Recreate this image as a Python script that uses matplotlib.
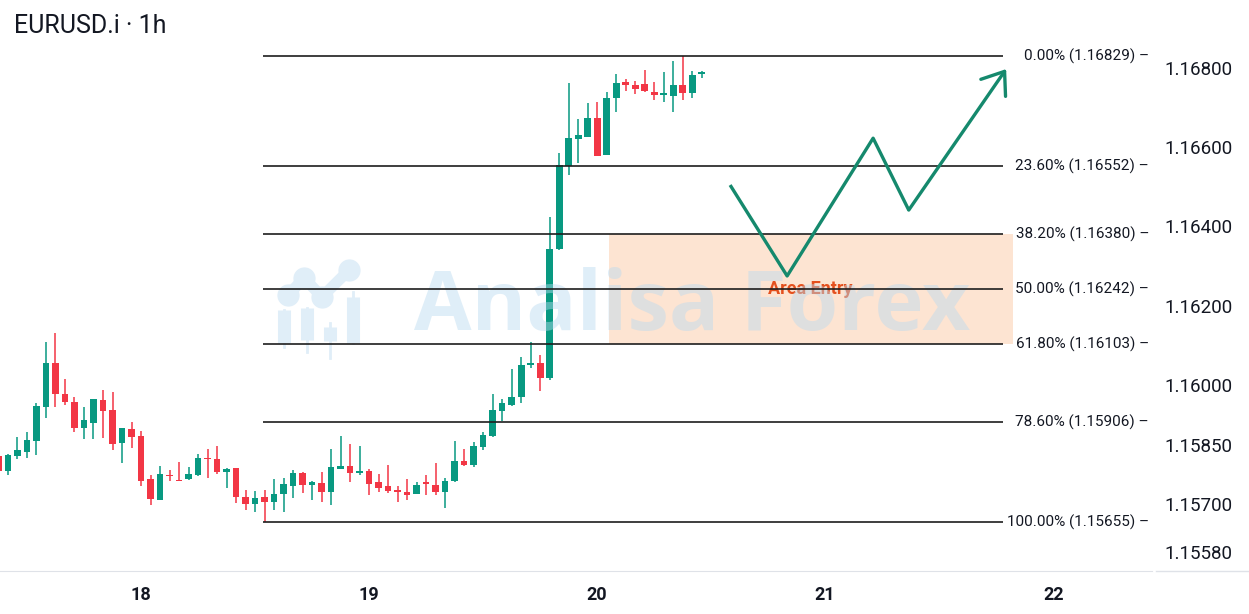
import matplotlib
matplotlib.use("Agg")
import matplotlib.pyplot as plt
import matplotlib.transforms as mtransforms
from matplotlib.lines import Line2D
from matplotlib.patches import Rectangle

plt.rcParams['font.family'] = ['Roboto', 'DejaVu Sans']

# hourly candles, hour 0 = day 18 00:00
hours = list(range(-15, 60))
opens = [1.15821, 1.15784, 1.15822, 1.15832, 1.15860, 1.15946, 1.16055, 1.15977, 1.15958, 1.15891,
         1.15905, 1.15962, 1.15937, 1.15855, 1.15889, 1.15872, 1.15763, 1.15712, 1.15774, 1.15761,
         1.15763, 1.15774, 1.15817, 1.15813, 1.15782, 1.15792, 1.15719, 1.15701, 1.15719, 1.15707,
         1.15727, 1.15747, 1.15778, 1.15748, 1.15754, 1.15732, 1.15789, 1.15797, 1.15779, 1.15783,
         1.15755, 1.15745, 1.15733, 1.15732, 1.15726, 1.15752, 1.15748, 1.15730, 1.15758, 1.15810,
         1.15798, 1.15845, 1.15873, 1.15935, 1.15951, 1.15969, 1.16052, 1.16055, 1.16017, 1.16344,
         1.16551, 1.16621, 1.16626, 1.16674, 1.16580, 1.16722, 1.16764, 1.16755, 1.16758, 1.16739,
         1.16732, 1.16729, 1.16756, 1.16737, 1.16784]
highs = [1.15825, 1.15826, 1.15870, 1.15883, 1.15956, 1.16109, 1.16132, 1.16015, 1.15971, 1.15944,
         1.15966, 1.15988, 1.15983, 1.15891, 1.15907, 1.15885, 1.15774, 1.15796, 1.15786, 1.15806,
         1.15793, 1.15826, 1.15838, 1.15848, 1.15792, 1.15792, 1.15736, 1.15733, 1.15736, 1.15763,
         1.15765, 1.15786, 1.15781, 1.15758, 1.15781, 1.15838, 1.15873, 1.15852, 1.15847, 1.15790,
         1.15776, 1.15798, 1.15746, 1.15763, 1.15757, 1.15773, 1.15805, 1.15765, 1.15859, 1.15838,
         1.15857, 1.15883, 1.15978, 1.15965, 1.16040, 1.16072, 1.16109, 1.16077, 1.16424, 1.16584,
         1.16762, 1.16670, 1.16711, 1.16713, 1.16739, 1.16784, 1.16771, 1.16766, 1.16794, 1.16764,
         1.16789, 1.16816, 1.16829, 1.16792, 1.16790]
lows = [1.15780, 1.15774, 1.15815, 1.15817, 1.15824, 1.15918, 1.15946, 1.15950, 1.15883, 1.15864,
        1.15864, 1.15868, 1.15836, 1.15805, 1.15841, 1.15747, 1.15698, 1.15712, 1.15759, 1.15758,
        1.15761, 1.15772, 1.15766, 1.15776, 1.15742, 1.15704, 1.15685, 1.15681, 1.15655, 1.15685,
        1.15681, 1.15715, 1.15729, 1.15712, 1.15706, 1.15699, 1.15789, 1.15755, 1.15775, 1.15723,
        1.15731, 1.15729, 1.15706, 1.15712, 1.15726, 1.15723, 1.15723, 1.15691, 1.15757, 1.15797,
        1.15794, 1.15837, 1.15870, 1.15909, 1.15947, 1.15956, 1.16042, 1.15986, 1.16014, 1.16340,
        1.16529, 1.16560, 1.16626, 1.16578, 1.16580, 1.16689, 1.16740, 1.16734, 1.16739, 1.16717,
        1.16713, 1.16689, 1.16718, 1.16724, 1.16773]
closes = [1.15784, 1.15824, 1.15837, 1.15862, 1.15947, 1.16055, 1.15978, 1.15958, 1.15891, 1.15912,
          1.15966, 1.15936, 1.15853, 1.15891, 1.15870, 1.15758, 1.15713, 1.15776, 1.15771, 1.15758,
          1.15776, 1.15817, 1.15813, 1.15782, 1.15789, 1.15719, 1.15700, 1.15716, 1.15707, 1.15727,
          1.15751, 1.15780, 1.15748, 1.15755, 1.15732, 1.15793, 1.15796, 1.15780, 1.15784, 1.15752,
          1.15742, 1.15734, 1.15731, 1.15724, 1.15748, 1.15751, 1.15730, 1.15759, 1.15810, 1.15800,
          1.15848, 1.15874, 1.15937, 1.15956, 1.15971, 1.16051, 1.16055, 1.16017, 1.16344, 1.16554,
          1.16622, 1.16630, 1.16674, 1.16578, 1.16722, 1.16760, 1.16757, 1.16746, 1.16742, 1.16730,
          1.16735, 1.16756, 1.16737, 1.16782, 1.16787]

# fibonacci retracement
fib_ratios = [0.0, 23.6, 38.2, 50.0, 61.8, 78.6, 100.0]
fib_prices = [1.16829, 1.16552, 1.16380, 1.16242, 1.16103, 1.15906, 1.15655]
fib_start, fib_end = 12.8, 90.7

# entry zone and projected path
zone_x = (49.3, 91.8)
zone_y = (1.16103, 1.16380)
path_x = [62.0, 68.0, 77.05, 80.8, 91.05]
path_y = [1.16504, 1.16275, 1.16622, 1.16441, 1.16796]

price_ticks = [1.168, 1.166, 1.164, 1.162, 1.160, 1.1585, 1.157, 1.1558]
day_ticks = [0, 24, 48, 72, 96]
day_labels = ['18', '19', '20', '21', '22']

UP = '#089981'
DOWN = '#f23645'
TXT = '#131722'
WM = '#e0eef8'

fig = plt.figure(figsize=(12.49, 6.14), dpi=100)
ax = fig.add_axes([0, 43 / 614, 1152 / 1249, 571 / 614])
ax.set_xlim(-14.84, 106.4)
ax.set_ylim(1.15532, 1.16970)

# candles
for h, o, hi, lo, c in zip(hours, opens, highs, lows, closes):
    col = UP if c >= o else DOWN
    ax.vlines(h, lo, hi, color=col, lw=1.1, zorder=3)
    body = max(abs(c - o), 0.00004)
    ax.bar(h, body, bottom=min(o, c), width=0.72, color=col, lw=0, zorder=3)

# fib levels
ax.hlines(fib_prices, fib_start, fib_end, color='#1e1e1e', lw=1.2, zorder=4)
trans = mtransforms.blended_transform_factory(ax.transAxes, ax.transData)
for r, p in zip(fib_ratios, fib_prices):
    ax.text(0.9975, p, f'{r:.2f}% ({p:.5f}) \u2013', transform=trans, ha='right', va='center',
            fontsize=11, color=TXT, zorder=5)

ax.add_patch(Rectangle((zone_x[0], zone_y[0]), zone_x[1] - zone_x[0], zone_y[1] - zone_y[0],
                       facecolor='#fde4d2', edgecolor='none', zorder=1))

ax.plot(path_x[:-1], path_y[:-1], color='#15896d', lw=2.4, zorder=5, solid_capstyle='butt')
ax.annotate('', xy=(path_x[-1], path_y[-1]), xytext=(path_x[-2], path_y[-2]),
            arrowprops=dict(arrowstyle='->,head_length=0.6,head_width=0.45', color='#15896d',
                            lw=2.4, mutation_scale=24, shrinkA=0, shrinkB=0), zorder=5)

ax.text(70.4, fib_prices[3], 'Area Entry', ha='center', va='center', fontsize=13,
        fontweight='semibold', color='#e4501e', zorder=3)

# watermark
ax.text(0.601, 0.46, 'Analisa Forex', transform=ax.transAxes, ha='center', va='center',
        fontsize=60, fontweight='bold', family=['Open Sans', 'DejaVu Sans'],
        color='#b9daf0', alpha=0.45, zorder=3.5)
for bx, b0, b1, w0, w1 in [(0.2465, 0.399, 0.457, 0.392, 0.457), (0.2665, 0.405, 0.461, 0.384, 0.461),
                           (0.2865, 0.403, 0.427, 0.373, 0.434), (0.3065, 0.399, 0.480, 0.399, 0.489)]:
    ax.plot([bx, bx], [w0, w1], transform=ax.transAxes, color=WM, lw=2, zorder=2)
    ax.plot([bx, bx], [b0, b1], transform=ax.transAxes, color=WM, lw=9.4,
            solid_capstyle='butt', zorder=2)
ax.plot([0.250, 0.264, 0.2795, 0.303], [0.483, 0.513, 0.480, 0.527], transform=ax.transAxes,
        color=WM, lw=8, marker='o', ms=15, zorder=2)

# axes styling
for s in ['top', 'left', 'right']:
    ax.spines[s].set_visible(False)
ax.spines['bottom'].set_color('#dfe2e8')
ax.yaxis.tick_right()
ax.set_yticks(price_ticks)
ax.set_yticklabels([f'{v:.5f}' for v in price_ticks])
ax.tick_params(axis='y', length=0, pad=9, labelsize=13.5, labelcolor=TXT)
ax.set_xticks(day_ticks)
ax.set_xticklabels(day_labels, fontweight='bold')
ax.tick_params(axis='x', length=0, pad=11, labelsize=13, labelcolor=TXT)
fig.add_artist(Line2D([1156 / 1249, 1], [43 / 614, 43 / 614], color='#dfe2e8', lw=1))

fig.text(14 / 1249, 1 - 26 / 614, 'EURUSD.i \u00b7 1h', ha='left', va='center',
         fontsize=18, color=TXT)

fig.savefig('out.png', dpi=100, facecolor='white')
